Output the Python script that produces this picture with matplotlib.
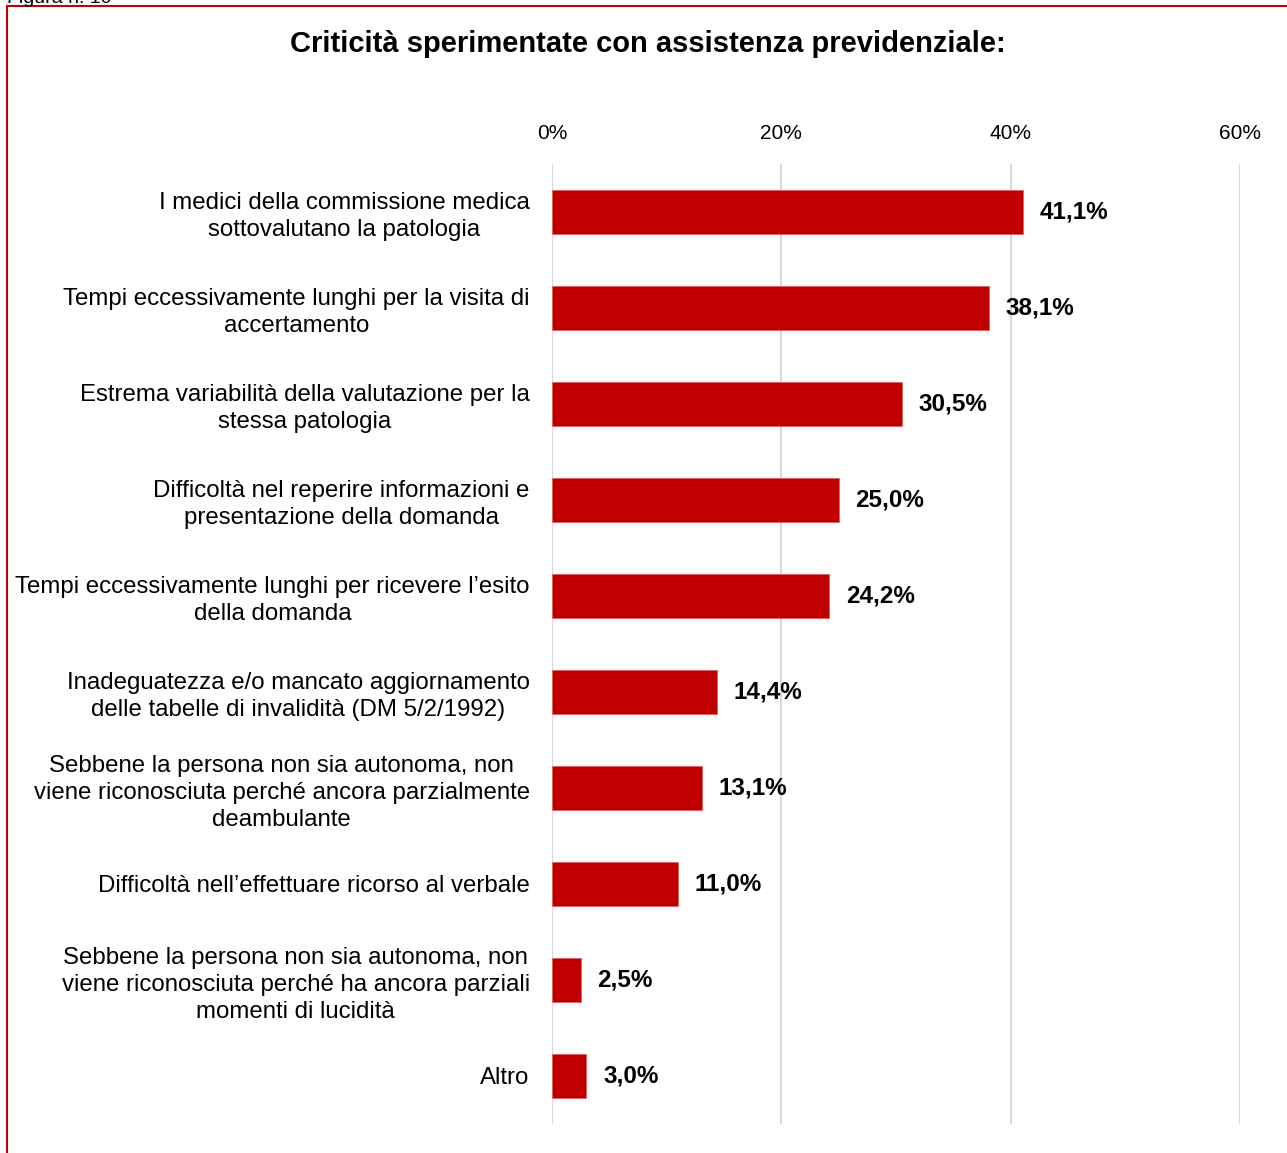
import matplotlib
matplotlib.use("Agg")
import matplotlib.pyplot as plt
from matplotlib.patches import Rectangle
from matplotlib.ticker import FuncFormatter

plt.rcParams['font.family'] = ['Liberation Sans', 'DejaVu Sans']

categories = [
    "I medici della commissione medica\nsottovalutano la patologia",
    "Tempi eccessivamente lunghi per la visita di\naccertamento",
    "Estrema variabilità della valutazione per la\nstessa patologia",
    "Difficoltà nel reperire informazioni e\npresentazione della domanda",
    "Tempi eccessivamente lunghi per ricevere l’esito\ndella domanda",
    "Inadeguatezza e/o mancato aggiornamento\ndelle tabelle di invalidità (DM 5/2/1992)",
    "Sebbene la persona non sia autonoma, non\nviene riconosciuta perché ancora parzialmente\ndeambulante",
    "Difficoltà nell’effettuare ricorso al verbale",
    "Sebbene la persona non sia autonoma, non\nviene riconosciuta perché ha ancora parziali\nmomenti di lucidità",
    "Altro",
]
values = [41.1, 38.1, 30.5, 25.0, 24.2, 14.4, 13.1, 11.0, 2.5, 3.0]
value_labels = ["41,1%", "38,1%", "30,5%", "25,0%", "24,2%", "14,4%", "13,1%", "11,0%", "2,5%", "3,0%"]
xticks = [0, 20, 40, 60]
title = "Criticità sperimentate con assistenza previdenziale:"

W, H = 1287, 1153
fig = plt.figure(figsize=(W / 100, H / 100), dpi=100)
ax = fig.add_axes([552 / W, 1 - 1124 / H, (1240 - 552) / W, (1124 - 164) / H])

ypos = list(range(len(values)))
ax.barh(ypos, values, height=0.46, color="#C00000", edgecolor="#E06060", linewidth=0.6, zorder=3)
ax.set_ylim(len(values) - 0.5, -0.5)
ax.set_xlim(0, 60)
ax.set_xticks(xticks)
ax.xaxis.set_major_formatter(FuncFormatter(lambda v, p: f"{int(v)}%"))
ax.xaxis.tick_top()
ax.tick_params(axis='x', length=0, pad=15, labelsize=15)
ax.set_yticks(ypos)
ax.set_yticklabels(categories, fontsize=17.3, linespacing=1.28)
for t in ax.get_yticklabels():
    t.set_horizontalalignment('right')
    t.set_multialignment('center')
ax.tick_params(axis='y', length=0, pad=16)
ax.grid(axis='x', color="#D9D9D9", linewidth=1.5, zorder=0)
for s in ax.spines.values():
    s.set_visible(False)

for y, v, lab in zip(ypos, values, value_labels):
    ax.annotate(lab, xy=(v, y), xytext=(12, 0), textcoords='offset points',
                va='center', ha='left', fontsize=17.5, fontweight='bold')

fig.text(0.5031, 1 - 44 / H, title, ha='center', va='center', fontsize=21, fontweight='bold')

fig.text(7 / W, 1 - 3 / H, "Figura n. 10", ha='left', va='baseline', fontsize=14)

fig.patches.append(Rectangle((7 / W, -0.1), 1.2, (1 - 6 / H) + 0.1, transform=fig.transFigure,
                             fill=False, edgecolor="#C00000", linewidth=1.5))

fig.savefig("out.png", dpi=100)
